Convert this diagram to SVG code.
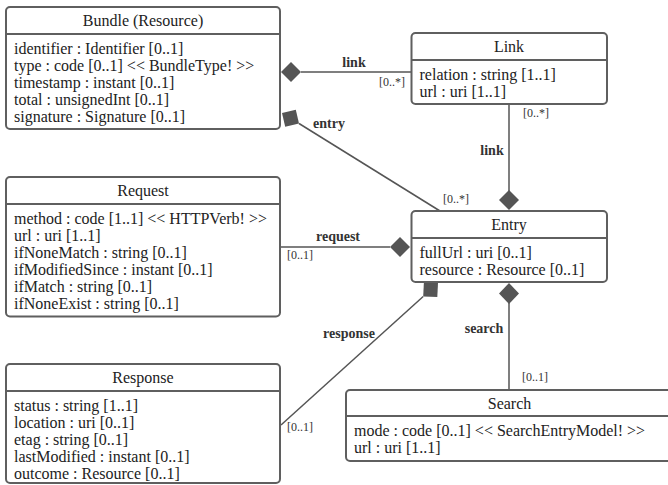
<svg xmlns="http://www.w3.org/2000/svg" width="668" height="485" viewBox="0 0 668 485">
<style>
.box{fill:#fff;stroke:#5f5f5f;stroke-width:2}
.sep{stroke:#5f5f5f;stroke-width:2}
.t{font-family:"Liberation Serif",serif;font-size:16px;fill:#222}
.title{text-anchor:middle}
.edge{stroke:#555;stroke-width:1.5;fill:none}
.dia{fill:#555;stroke:none}
.lbl{font-family:"Liberation Serif",serif;font-size:14px;font-weight:bold;fill:#333;text-anchor:middle}
.card{font-family:"Liberation Serif",serif;font-size:12px;fill:#333}
</style>
<g id="connectors">
  <g id="link-bundle">
    <line class="edge" x1="301" y1="72" x2="411" y2="72"/>
    <polygon class="dia" points="281,72 291,62 301,72 291,82"/>
    <text class="lbl" x="354" y="67">link</text>
    <text class="card" x="405" y="86" text-anchor="end">[0..*]</text>
  </g>
  <g id="entry-bundle">
    <line class="edge" x1="299" y1="123.5" x2="440" y2="211"/>
    <polygon class="dia" points="282,113 295.8,109.8 299,123.5 285.2,126.8"/>
    <text class="lbl" x="329" y="128">entry</text>
    <text class="card" x="443" y="203">[0..*]</text>
  </g>
  <g id="link-entry">
    <line class="edge" x1="509" y1="104" x2="509" y2="191"/>
    <polygon class="dia" points="509,190 519,200 509,210 499,200"/>
    <text class="lbl" x="492" y="155">link</text>
    <text class="card" x="523" y="117">[0..*]</text>
  </g>
  <g id="request-entry">
    <line class="edge" x1="280" y1="247" x2="390" y2="247"/>
    <polygon class="dia" points="390,247 400,237 410,247 400,257"/>
    <text class="lbl" x="338" y="241">request</text>
    <text class="card" x="287" y="259">[0..1]</text>
  </g>
  <g id="response-entry">
    <line class="edge" x1="423.2" y1="296.5" x2="281" y2="425"/>
    <polygon class="dia" points="438,283 437.3,297.1 423.2,296.5 423.9,282.3"/>
    <text class="lbl" x="349" y="338">response</text>
    <text class="card" x="287" y="431">[0..1]</text>
  </g>
  <g id="search-entry">
    <line class="edge" x1="509" y1="303" x2="509" y2="390"/>
    <polygon class="dia" points="509,283 519,293.5 509,304 499,293.5"/>
    <text class="lbl" x="484" y="333">search</text>
    <text class="card" x="522" y="381">[0..1]</text>
  </g>
</g>
<g id="bundle">
  <rect class="box" x="6" y="7" width="274" height="122" rx="4"/>
  <line class="sep" x1="6" y1="34" x2="280" y2="34"/>
  <text class="t title" x="143" y="26">Bundle (Resource)</text>
  <text class="t" x="14" y="53.5">identifier : Identifier [0..1]</text>
  <text class="t" x="14" y="70.5">type : code [0..1] &lt;&lt; BundleType! &gt;&gt;</text>
  <text class="t" x="14" y="87.5">timestamp : instant [0..1]</text>
  <text class="t" x="14" y="104.5">total : unsignedInt [0..1]</text>
  <text class="t" x="14" y="121.5">signature : Signature [0..1]</text>
</g>
<g id="link">
  <rect class="box" x="411.5" y="33" width="195.5" height="71" rx="4"/>
  <line class="sep" x1="411.5" y1="60" x2="607" y2="60"/>
  <text class="t title" x="509" y="52">Link</text>
  <text class="t" x="419.5" y="79.5">relation : string [1..1]</text>
  <text class="t" x="419.5" y="96.5">url : uri [1..1]</text>
</g>
<g id="request">
  <rect class="box" x="6" y="177" width="274" height="139.5" rx="4"/>
  <line class="sep" x1="6" y1="204" x2="280" y2="204"/>
  <text class="t title" x="143" y="196">Request</text>
  <text class="t" x="14" y="223.5">method : code [1..1] &lt;&lt; HTTPVerb! &gt;&gt;</text>
  <text class="t" x="14" y="240.5">url : uri [1..1]</text>
  <text class="t" x="14" y="257.5">ifNoneMatch : string [0..1]</text>
  <text class="t" x="14" y="274.5">ifModifiedSince : instant [0..1]</text>
  <text class="t" x="14" y="291.5">ifMatch : string [0..1]</text>
  <text class="t" x="14" y="308.5">ifNoneExist : string [0..1]</text>
</g>
<g id="entry">
  <rect class="box" x="411.5" y="211" width="195.5" height="71" rx="4"/>
  <line class="sep" x1="411.5" y1="238" x2="607" y2="238"/>
  <text class="t title" x="509" y="230">Entry</text>
  <text class="t" x="419.5" y="257.5">fullUrl : uri [0..1]</text>
  <text class="t" x="419.5" y="274.5">resource : Resource [0..1]</text>
</g>
<g id="response">
  <rect class="box" x="6" y="364" width="274" height="119" rx="4"/>
  <line class="sep" x1="6" y1="391" x2="280" y2="391"/>
  <text class="t title" x="143" y="383">Response</text>
  <text class="t" x="14" y="410.5">status : string [1..1]</text>
  <text class="t" x="14" y="427.5">location : uri [0..1]</text>
  <text class="t" x="14" y="444.5">etag : string [0..1]</text>
  <text class="t" x="14" y="461.5">lastModified : instant [0..1]</text>
  <text class="t" x="14" y="478.5">outcome : Resource [0..1]</text>
</g>
<g id="search">
  <rect class="box" x="346" y="390" width="327" height="71" rx="4"/>
  <line class="sep" x1="346" y1="416" x2="673" y2="416"/>
  <text class="t title" x="509.5" y="409">Search</text>
  <text class="t" x="354" y="435.5">mode : code [0..1] &lt;&lt; SearchEntryModel! &gt;&gt;</text>
  <text class="t" x="354" y="452.5">url : uri [1..1]</text>
</g>
</svg>
